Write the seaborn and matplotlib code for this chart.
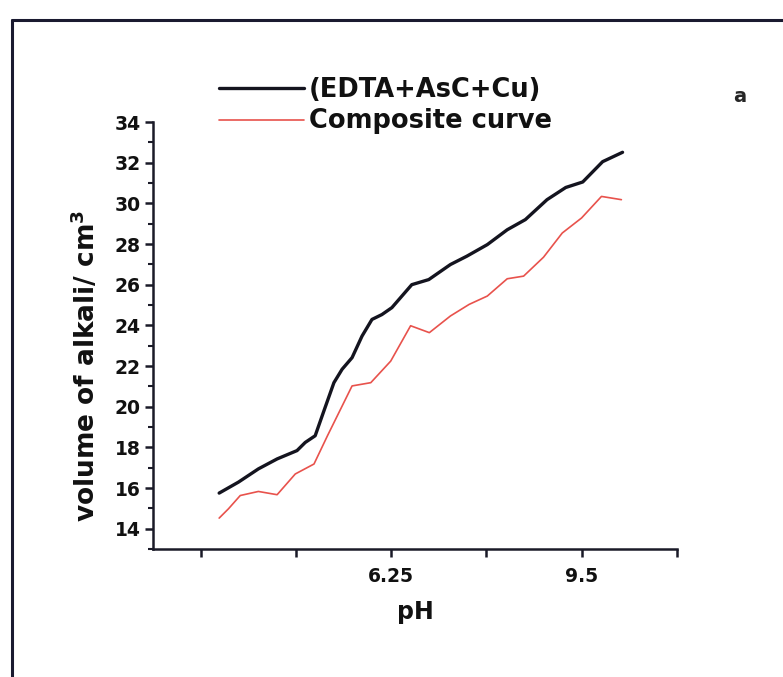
import numpy as np
import pandas as pd
import seaborn as sns
import matplotlib
matplotlib.use("Agg")
import matplotlib.pyplot as plt
from matplotlib.lines import Line2D
from matplotlib.ticker import FixedLocator, FixedFormatter, MultipleLocator

# ---- data ----
ph_edta = [3.31, 3.64, 3.98, 4.30, 4.64, 4.78, 4.95, 5.10, 5.27, 5.41, 5.58, 5.75, 5.92,
           6.09, 6.26, 6.60, 6.89, 7.26, 7.54, 7.89, 8.23, 8.54, 8.91, 9.23, 9.52, 9.86, 10.20]
vol_edta = [15.75, 16.29, 16.94, 17.43, 17.84, 18.24, 18.57, 19.80, 21.18, 21.84, 22.41, 23.47, 24.29,
            24.53, 24.87, 26.00, 26.25, 26.99, 27.40, 27.97, 28.70, 29.20, 30.18, 30.78, 31.05, 32.05, 32.51]

ph_comp = [3.31, 3.47, 3.67, 3.98, 4.30, 4.61, 4.93, 5.16, 5.58, 5.90, 6.24, 6.58, 6.90,
           7.26, 7.58, 7.89, 8.23, 8.51, 8.85, 9.17, 9.50, 9.84, 10.18]
vol_comp = [14.52, 14.98, 15.63, 15.83, 15.67, 16.69, 17.18, 18.57, 21.02, 21.18, 22.24, 23.98, 23.64,
            24.46, 25.03, 25.44, 26.29, 26.42, 27.35, 28.54, 29.28, 30.34, 30.18]

series_names = ["(EDTA+AsC+Cu)", "Composite curve"]
x_ticks = [3.0, 4.625, 6.25, 7.875, 9.5, 11.125]
x_tick_labels = ["", "", "6.25", "", "9.5", ""]
y_ticks = [14, 16, 18, 20, 22, 24, 26, 28, 30, 32, 34]

df_edta = pd.DataFrame({"pH": ph_edta, "vol": vol_edta, "series": series_names[0]})
df_comp = pd.DataFrame({"pH": ph_comp, "vol": vol_comp, "series": series_names[1]})

sns.set_theme(style="ticks")
plt.rcParams["font.family"] = ["DejaVu Sans"]
plt.rcParams["font.weight"] = "bold"

W, H = 783, 677
fig = plt.figure(figsize=(W / 100, H / 100), dpi=100)
fig.patch.set_facecolor("white")
ax = fig.add_axes([153 / W, 1 - 549 / H, (677 - 153) / W, (549 - 122) / H])

sns.lineplot(data=df_edta, x="pH", y="vol", ax=ax, color="#14141f", linewidth=2.4,
             sort=False, label=series_names[0])
sns.lineplot(data=df_comp, x="pH", y="vol", ax=ax, color="#e8524c", linewidth=1.2,
             sort=False, label=series_names[1])

ax.set_xlim(2.18, 11.13)
ax.set_ylim(13.0, 34.0)

for s in ["top", "right"]:
    ax.spines[s].set_visible(False)
for s in ["left", "bottom"]:
    ax.spines[s].set_linewidth(1.8)
    ax.spines[s].set_color("#1a1a28")

ax.xaxis.set_major_locator(FixedLocator(x_ticks))
ax.xaxis.set_major_formatter(FixedFormatter(x_tick_labels))
ax.yaxis.set_major_locator(FixedLocator(y_ticks))
ax.yaxis.set_minor_locator(MultipleLocator(1))
ax.tick_params(axis="both", which="major", direction="out", length=6, width=1.8,
               color="#1a1a28", labelsize=13.5, pad=3)
ax.tick_params(axis="x", which="major", pad=7)
ax.tick_params(axis="y", which="minor", direction="out", length=3.5, width=1.5, color="#1a1a28")
for lab in ax.get_xticklabels() + ax.get_yticklabels():
    lab.set_fontweight("bold")
    lab.set_color("#111111")

ax.set_xlabel("pH", fontsize=17, fontweight="bold", labelpad=10, color="#111111")
ax.set_ylabel("volume of alkali/ cm$^\\mathbf{3}$", fontsize=19, fontweight="bold",
              color="#111111")
ax.yaxis.set_label_coords(-0.100, 0.43)

leg = ax.legend(loc="upper left", bbox_to_anchor=(206 / W, 1 - 64 / H),
                bbox_transform=fig.transFigure, frameon=False, fontsize=18.5,
                handlelength=3.3, handletextpad=0.2, labelspacing=0.22, borderpad=0)
for t in leg.get_texts():
    t.set_fontweight("bold")
    t.set_color("#111111")

fig.text(740 / W, 1 - 97 / H, "a", fontsize=14, fontweight="bold", ha="center", va="center")

# outer frame (partly cut off in the reference)
fig.add_artist(Line2D([12 / W, 12 / W], [0, 1 - 20 / H], transform=fig.transFigure,
                      color="#1a1a30", linewidth=2.2))
fig.add_artist(Line2D([12 / W, 1], [1 - 20 / H, 1 - 20 / H], transform=fig.transFigure,
                      color="#1a1a30", linewidth=2.2))

fig.savefig("out.png", dpi=100)
